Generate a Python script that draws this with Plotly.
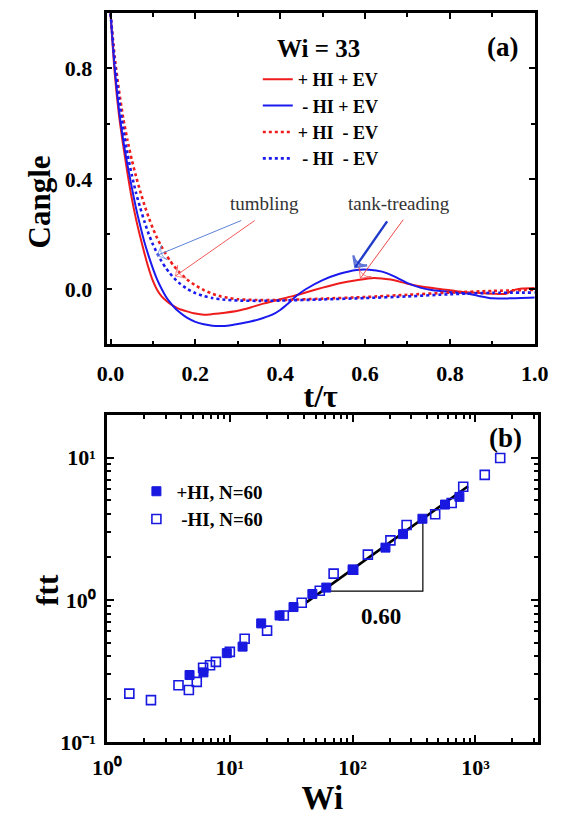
import math
import plotly.graph_objects as go

# ---------------- Panel (a) data ----------------
rs_x = [0, 0.01, 0.02, 0.03, 0.04, 0.05, 0.06, 0.07, 0.08, 0.09, 0.10, 0.11, 0.12, 0.13, 0.14, 0.15, 0.16,
        0.18, 0.20, 0.22, 0.24, 0.27, 0.30, 0.33, 0.36, 0.40, 0.43, 0.46, 0.50, 0.54, 0.58, 0.62, 0.66,
        0.70, 0.74, 0.78, 0.82, 0.86, 0.90, 0.93, 0.95, 0.97, 1.0]
rs_y = [1.0, 0.78, 0.63, 0.52, 0.42, 0.33, 0.255, 0.19, 0.13, 0.075, 0.03, -0.003, -0.025, -0.04, -0.052,
        -0.062, -0.07, -0.08, -0.088, -0.092, -0.09, -0.085, -0.078, -0.066, -0.052, -0.036, -0.025,
        -0.012, 0.006, 0.022, 0.033, 0.041, 0.035, 0.02, 0.008, 0.0, -0.008, -0.013, -0.016, -0.017,
        -0.003, 0.003, 0.005]

bs_x = [0, 0.01, 0.02, 0.03, 0.04, 0.05, 0.06, 0.07, 0.08, 0.09, 0.10, 0.11, 0.12, 0.13, 0.14, 0.15, 0.16,
        0.18, 0.20, 0.22, 0.24, 0.26, 0.28, 0.30, 0.33, 0.36, 0.38, 0.40, 0.42, 0.44, 0.46, 0.50, 0.54,
        0.58, 0.61, 0.64, 0.67, 0.70, 0.73, 0.76, 0.80, 0.84, 0.87, 0.90, 0.94, 1.0]
bs_y = [1.0, 0.80, 0.65, 0.54, 0.45, 0.37, 0.295, 0.23, 0.17, 0.12, 0.075, 0.035, 0.003, -0.025, -0.047,
        -0.065, -0.08, -0.103, -0.118, -0.127, -0.132, -0.133, -0.131, -0.126, -0.117, -0.104, -0.093,
        -0.075, -0.05, -0.022, 0.0, 0.033, 0.056, 0.07, 0.071, 0.064, 0.046, 0.022, 0.006, -0.004,
        -0.01, -0.015, -0.025, -0.033, -0.033, -0.03]

rd_x = [0, 0.01, 0.02, 0.03, 0.04, 0.05, 0.06, 0.07, 0.08, 0.09, 0.10, 0.11, 0.12, 0.13, 0.14, 0.15, 0.16,
        0.18, 0.20, 0.22, 0.24, 0.26, 0.28, 0.30, 0.34, 0.40, 0.50, 0.60, 0.70, 0.80, 0.90, 1.0]
rd_y = [1.0, 0.84, 0.72, 0.62, 0.54, 0.47, 0.41, 0.355, 0.305, 0.26, 0.22, 0.185, 0.155, 0.128, 0.104,
        0.083, 0.065, 0.036, 0.014, -0.003, -0.016, -0.026, -0.032, -0.036, -0.039, -0.039, -0.034,
        -0.028, -0.02, -0.012, -0.006, -0.002]

bd_x = [0, 0.01, 0.02, 0.03, 0.04, 0.05, 0.06, 0.07, 0.08, 0.09, 0.10, 0.11, 0.12, 0.13, 0.14, 0.15, 0.16,
        0.18, 0.20, 0.22, 0.24, 0.27, 0.30, 0.35, 0.40, 0.50, 0.60, 0.70, 0.80, 0.90, 1.0]
bd_y = [1.0, 0.82, 0.69, 0.58, 0.49, 0.415, 0.35, 0.295, 0.245, 0.2, 0.162, 0.13, 0.102, 0.078, 0.058,
        0.04, 0.025, 0.002, -0.014, -0.025, -0.032, -0.038, -0.041, -0.042, -0.041, -0.037, -0.032,
        -0.026, -0.018, -0.013, -0.012]

names_a = ["+ HI + EV", " - HI + EV", "+ HI  - EV", " - HI  - EV"]

# arrows of panel (a): [tail_x, tip_x], [tail_y, tip_y]
arrow_tumb_blue = ([0.308, 0.110], [0.249, 0.123])
arrow_tumb_red = ([0.340, 0.153], [0.249, 0.048])
arrow_tt_blue = ([0.652, 0.577], [0.246, 0.080])
arrow_tt_red = ([0.690, 0.589], [0.252, 0.040])

# ---------------- Panel (b) data ----------------
hi_wi = [4.7, 6.1, 9.45, 12.7, 18.0, 25.4, 33.0, 47.0, 61.0, 100.0, 185.0, 257.0, 370.0, 565.0, 740.0]
hi_f = [0.296, 0.309, 0.422, 0.469, 0.683, 0.776, 0.89, 1.10, 1.22, 1.63, 2.33, 2.90, 3.72, 4.68, 5.30]

nohi_wi = [1.52, 2.28, 3.82, 4.64, 5.38, 6.06, 6.9, 7.7, 10.0, 13.2, 20.1, 27.5, 38.5, 54.0, 70.0,
           101.0, 133.0, 203.0, 275.0, 470.0, 640.0, 795.0, 1190.0, 1590.0]
nohi_f = [0.219, 0.197, 0.251, 0.232, 0.265, 0.333, 0.347, 0.366, 0.431, 0.533, 0.608, 0.776, 0.955,
          1.16, 1.53, 1.63, 2.08, 2.62, 3.36, 4.0, 4.8, 6.24, 7.57, 9.95]

fit_wi = [42.0, 870.0]
fit_f = [0.96, 6.3]
tri_wi = [63.0, 373.0, 373.0]
tri_f = [1.153, 1.153, 3.72]

names_b = ["+HI, N=60", "-HI, N=60"]

xtick_b = [1, 10, 100, 1000]
xtext_b = ["10\u2070", "10\u00b9", "10\u00b2", "10\u00b3"]
ytick_b = [0.1, 1, 10]
ytext_b = ["10\u207b\u00b9", "10\u2070", "10\u00b9"]

# ---------------- Styles ----------------
W, H = 563, 820
FONT = "Liberation Serif"
RED = "#ee1c1c"
BLUE = "#1a1aee"
MBLUE = "#1818e0"


def px_x(p):
    return p / W


def px_y(p):
    return 1 - p / H


fig = go.Figure()

line_specs = [
    (rs_x, rs_y, RED, "solid", 2.0),
    (bs_x, bs_y, BLUE, "solid", 2.0),
    (rd_x, rd_y, RED, "dot", 2.6),
    (bd_x, bd_y, BLUE, "dot", 2.6),
]
for i, (xs, ys, col, dash, w) in enumerate(line_specs):
    fig.add_trace(go.Scatter(
        x=xs, y=ys, mode="lines", name="<b>" + names_a[i].replace(" ", "\u00a0") + "</b>",
        line=dict(color=col, dash=dash, width=w, shape="spline", smoothing=0.6),
        xaxis="x", yaxis="y", legend="legend",
    ))

arrow_specs = [
    (arrow_tumb_blue, "#5b82d6", 1.0, 11),
    (arrow_tumb_red, "#f05a5a", 1.0, 11),
    (arrow_tt_blue, "#1f3cc8", 2.4, 12),
    (arrow_tt_red, "#f04848", 1.0, 11),
]
for (ax_, ay_), col, w, ms in arrow_specs:
    fig.add_trace(go.Scatter(
        x=ax_, y=ay_, mode="lines+markers", showlegend=False, hoverinfo="skip",
        line=dict(color=col, width=w),
        marker=dict(symbol=["circle", "arrow-wide-open"], size=[0, ms], angleref="previous",
                    color=col, line=dict(color=col, width=w)),
        xaxis="x", yaxis="y",
    ))

fig.add_trace(go.Scatter(
    x=fit_wi, y=fit_f, mode="lines", line=dict(color="black", width=2.6),
    xaxis="x2", yaxis="y2", showlegend=False))
fig.add_trace(go.Scatter(
    x=tri_wi, y=tri_f, mode="lines", line=dict(color="black", width=1.2),
    xaxis="x2", yaxis="y2", showlegend=False))
fig.add_trace(go.Scatter(
    x=hi_wi, y=hi_f, mode="markers", name="<b>" + names_b[0] + "</b>",
    marker=dict(symbol="square", size=9, color=MBLUE, line=dict(color=MBLUE, width=1)),
    xaxis="x2", yaxis="y2", legend="legend2"))
fig.add_trace(go.Scatter(
    x=nohi_wi, y=nohi_f, mode="markers", name="<b>\u00a0" + names_b[1] + "</b>",
    marker=dict(symbol="square-open", size=9, color=MBLUE, line=dict(color=MBLUE, width=1.6)),
    xaxis="x2", yaxis="y2", legend="legend2"))

axis_common = dict(
    showline=True, linewidth=2.6, linecolor="black", mirror="ticks",
    ticks="inside", ticklen=6, tickwidth=2, tickcolor="black",
    showgrid=False, zeroline=False,
    tickfont=dict(family=FONT, size=22, color="black", weight="bold"),
)

minor_x = [m * 10 ** d for d in range(0, 4) for m in range(2, 10)]
minor_y = [m * 10 ** d for d in range(-1, 2) for m in range(2, 10)]

fig.update_layout(
    width=W, height=H,
    margin=dict(l=0, r=0, t=0, b=0),
    paper_bgcolor="white", plot_bgcolor="white",
    font=dict(family=FONT, color="black"),
    xaxis=dict(
        axis_common, domain=[px_x(96.5), px_x(548)], range=[-0.0094, 1.0], anchor="y",
        tick0=0, dtick=0.2, tickformat=".1f", ticklabelstandoff=7,
        minor=dict(ticks="inside", dtick=0.1, ticklen=4, tickwidth=2, tickcolor="black"),
        title=dict(text="<b>t/τ</b>", font=dict(family=FONT, size=32, color="black"), standoff=0),
    ),
    yaxis=dict(
        axis_common, domain=[px_y(350), px_y(13.5)], range=[-0.2, 1.0], anchor="x",
        tick0=0, dtick=0.4, tickformat=".1f", ticklabelstandoff=7,
        minor=dict(ticks="inside", dtick=0.2, ticklen=4, tickwidth=2, tickcolor="black"),
    ),
    xaxis2=dict(
        axis_common, type="log", domain=[px_x(97), px_x(551)], range=[0, 3.506], anchor="y2",
        tickvals=xtick_b, ticktext=xtext_b, ticklen=7, ticklabelstandoff=4,
        minor=dict(ticks="inside", tickvals=minor_x, ticklen=4, tickwidth=2, tickcolor="black"),
        title=dict(text="<b>Wi</b>", font=dict(family=FONT, size=33, color="black"), standoff=0),
    ),
    yaxis2=dict(
        axis_common, type="log", domain=[px_y(754), px_y(421.7)], range=[-1, 1.3], anchor="x2",
        tickvals=ytick_b, ticktext=ytext_b, ticklen=7, ticklabelstandoff=4,
        minor=dict(ticks="inside", tickvals=minor_y, ticklen=4, tickwidth=2, tickcolor="black"),
    ),
    legend=dict(
        x=px_x(256), y=px_y(62), xanchor="left", yanchor="top",
        bgcolor="rgba(0,0,0,0)", borderwidth=0,
        font=dict(family=FONT, size=18, color="black"),
    ),
    legend2=dict(
        x=px_x(128), y=px_y(480), xanchor="left", yanchor="top",
        bgcolor="rgba(0,0,0,0)", borderwidth=0,
        font=dict(family=FONT, size=19, color="black"),
    ),
    showlegend=True,
)

ann = []
ann.append(dict(x=0.491, y=0.871, xref="x", yref="y", text="<b>Wi = 33</b>", showarrow=False,
                xanchor="center", yanchor="middle", font=dict(family=FONT, size=25, color="black")))
ann.append(dict(x=0.924, y=0.879, xref="x", yref="y", text="<b>(a)</b>", showarrow=False,
                xanchor="center", yanchor="middle", font=dict(family=FONT, size=27, color="black")))
ann.append(dict(x=0.364, y=0.312, xref="x", yref="y", text="tumbling", showarrow=False,
                xanchor="center", yanchor="middle", font=dict(family=FONT, size=19, color="#333333")))
ann.append(dict(x=0.68, y=0.312, xref="x", yref="y", text="tank-treading", showarrow=False,
                xanchor="center", yanchor="middle", font=dict(family=FONT, size=19, color="#333333")))
ann.append(dict(x=math.log10(1750), y=math.log10(13.7), xref="x2", yref="y2", text="<b>(b)</b>",
                xanchor="center", yanchor="middle",
                showarrow=False, font=dict(family=FONT, size=27, color="black")))
ann.append(dict(x=math.log10(170.6), y=math.log10(0.767), xref="x2", yref="y2", text="<b>0.60</b>",
                xanchor="center", yanchor="middle",
                showarrow=False, font=dict(family=FONT, size=23, color="black")))
ann.append(dict(x=px_x(26), y=px_y(205), xref="paper", yref="paper", text="<b>Cangle</b>",
                xanchor="center", yanchor="middle",
                textangle=-90, showarrow=False, font=dict(family=FONT, size=31, color="black")))
ann.append(dict(x=px_x(34), y=px_y(599), xref="paper", yref="paper", text="<b>ftt</b>",
                xanchor="center", yanchor="middle",
                textangle=-90, showarrow=False, font=dict(family=FONT, size=31, color="black")))

fig.update_layout(annotations=ann)

fig.write_html("out.html")
